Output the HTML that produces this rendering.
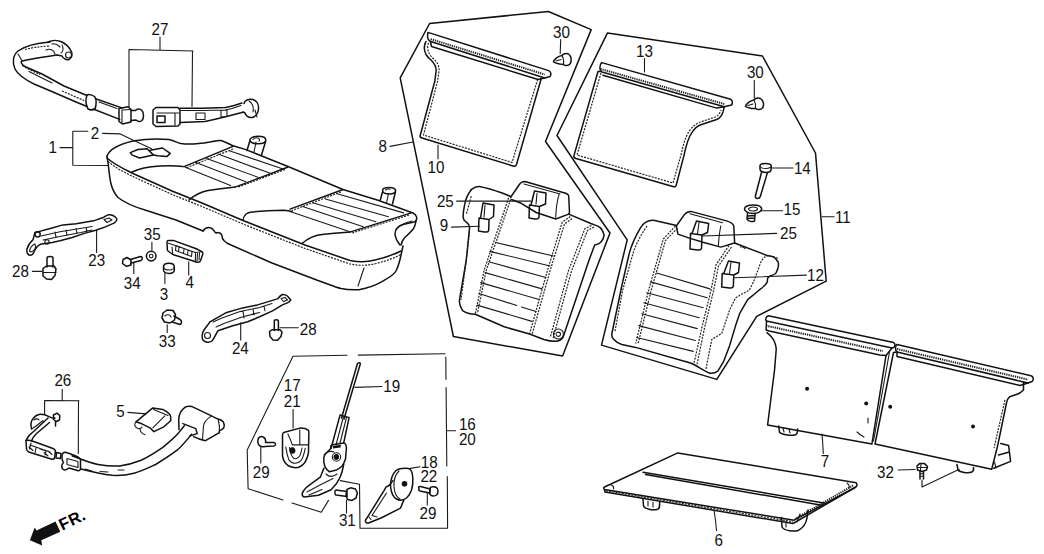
<!DOCTYPE html>
<html><head><meta charset="utf-8">
<style>
html,body{margin:0;padding:0;background:#fff;}
body{width:1044px;height:554px;overflow:hidden;}
svg{display:block;}
svg text{font-family:"Liberation Sans",sans-serif;font-size:16px;fill:#111;}
.l{fill:none;stroke:#111;stroke-width:1.5;stroke-linejoin:round;stroke-linecap:round;}
.t{fill:none;stroke:#1a1a1a;stroke-width:1.1;stroke-linejoin:round;stroke-linecap:round;}
.d{fill:none;stroke:#222;stroke-width:1.2;stroke-dasharray:2 1.2;}
.h{fill:none;stroke:#222;stroke-width:2;stroke-dasharray:1.3 0.9;}
.f{fill:#fff;stroke:#111;stroke-width:1.3;stroke-linejoin:round;}
.k{fill:#111;stroke:none;}
</style></head><body>
<svg width="1044" height="554" viewBox="0 0 1044 554">
<!-- SEAT CUSHION (1) -->
<g id="seat">
<path class="l" d="M107,156 C110,148 120,144 133,141 C145,139 158,138.5 169,139.6 C175,141 178,143 181,143.5 C188,144.5 198,144 210,142 C215,141 219,140 221,140.5 C226,142 230,144.5 233,145.8 L246,149.6 L288,166.5 L343,189.5 L378,200.3 L413,213 C417,215 418,219 415,221.7 L404,224.3 C398,226 395,229 395,234 C395,238 397,241 400,245"/>
<path class="l" d="M107,156 C107,158 108,160 109,171 C110,180 111,190 118,197.5 C125,203 135,207 145,210 L176,220 L203,231"/>
<path class="l" d="M203,231 C205,228 208,227 211,228 C214,229 214,232 216,233 C218,232 222,233 222,236 C222,240 226,243 231,245 L272,263 L318,280.5 C328,284 335,287 341,288.5 C348,290 354,290 359,289.7 C368,288 376,285 382,281.6 C390,277 394,275 396,271 C399,265 400,260 401,255 L403,246"/>
<path class="l" d="M107,158 C115,165 125,169.5 133,173.5 L172,191 L202,203 L243,220.5 L305,245 L350,260.5 C360,262.5 368,262 375,260 C388,257 395,254 401,251"/>
<path class="d" d="M108,161.5 C116,168.5 126,173 134,177 L172,194.5 L202,206.5 L243,224 L305,248.5 L350,264 C360,266 368,265.5 376,263.5 C388,260.5 395,257.5 401,254.5"/>
<path class="l" d="M131,172.5 C140,168 150,166.5 160,166 C170,165.5 176,165.5 183,166.6"/>
<path class="l" d="M189,200 C195,195 200,192 208,190.6 C220,188.5 228,187.8 235,187"/>
<path class="l" d="M243,220 C244,214 247,212.5 252,212 C262,211 275,210.5 284,210.3 C288,210.5 290,211 292,211.5"/>
<path class="l" d="M302,243.5 C308,238 316,235 322,234.4 C335,233 343,232.5 350,232"/>
<path class="l" d="M233,146.4 L184,166.6"/>
<path class="d" d="M233,149 L186,168"/>
<path class="l" d="M287.5,167.3 L235.7,186.9"/>
<path class="d" d="M285,169.5 L237,187.5"/>
<path class="t" d="M229.4,150.8 L283.7,169.2 M218,154 L271,173.6 M206.6,158.4 L258.4,177.4 M195.3,162.2 L245.8,181.8 M185.2,167.3 L230.6,185.6"/>
<path class="l" d="M343.1,189.5 L290,209.1"/>
<path class="d" d="M341,192 L292,210.5"/>
<path class="l" d="M411.3,212.9 L350.6,231.9"/>
<path class="d" d="M409,215 L352,233"/>
<path class="t" d="M338,194 L403.7,212.9 M325.4,199 L388.5,216.7 M312.7,202.8 L375.9,221.7 M302.6,206.6 L363.3,226.8 M290,211.6 L350.6,231.9"/>
<path class="l" d="M249.8,140 C249.8,137.8 253.5,136.3 257.8,136.3 C262.5,136.3 265.8,137.8 265.8,140 C265.8,142.2 262.5,143.8 257.8,143.8 C253.5,143.8 249.8,142.2 249.8,140 Z"/>
<path class="l" d="M249.8,141 L247,150.5 M265.6,141.5 L261.5,155"/>
<path class="t" d="M253,139.5 C254,138 256,137.5 258,138 C259.5,138.5 260,140 259,141 M256,142 L254,152"/>
<path class="l" d="M382.6,190.5 C382.6,188.5 385.5,187.6 389,187.6 C392.8,187.6 395.6,188.8 395.6,190.8 C395.6,192.8 392.8,194 389,194 C385.5,194 382.6,192.6 382.6,190.5 Z"/>
<path class="l" d="M382.6,191.5 L380.2,200.5 M395.4,192 L392.5,204"/>
<path class="t" d="M385.5,190 C386.5,189 388.5,188.8 390,189.3 M388.5,193.5 L386.5,203"/>
<path class="t" d="M396,229 C398,226 404,223 412,221"/>
<path class="l" d="M416.2,220.4 C415.5,224 414.5,227 413.3,229.1 C410,233 407,235.5 404.6,237.7 C402.5,240 401.5,242.5 401,245"/>
<path class="t" d="M358,286 L364,268"/>
<!-- part 2 tabs -->
<path class="l" d="M130.3,152.6 L137.9,149.5 L147.1,148.8 L153.3,154.9 L139.5,158 L131.8,154.9 Z"/>
<path class="l" d="M150.2,150.3 L162.5,148 L170.2,153.4 L167.1,156.4 L157.9,155.7 L153.3,154.9"/>
</g>
<!-- labels 1, 2 and brackets -->
<path class="t" d="M60,147.6 L72.8,147.6 M72.8,131.3 L72.8,165.2 M72.8,131.3 L87.8,131.3 M72.8,165.2 L108,165.5"/>
<path class="t" d="M102.7,133.4 L120.3,133.9 L133.3,140.3 L151.7,148.8"/>
<path class="t" d="M390,146.4 L413,142"/>
<!-- PART 27 -->
<g id="p27">
<path class="t" d="M160,37 L160,49.5 M129,49.5 L193,51 M129,49.5 L129,107 M192.5,51 L192,106.5"/>
<!-- left belt -->
<path class="l" d="M50,42 C38,43 25,46 18,51 C13,55 12,63 15,69 C18,75 26,80 34,84 L53,92 L76,102 L87,106.5"/>
<path class="l" d="M57,55 C45,57 30,59 22,61 C20,62 22,65 26,67 L42,74 L64,86 L87,95.5"/>
<path class="t" d="M18,54 C20,57 21,59 22,61 M29,71.5 L52,83"/>
<path class="d" d="M25,49.5 C32,47.5 40,46.5 50,46 M22,65.5 C28,69 34,72 40,74.5 M62,91 L84,100.5"/>
<path class="l" d="M48,42 C52,40 58,40 62,42 C66,44 69,47 71,51 C73,54 72,58 69,59.5 C66,60.5 63,58 62,56 L57,55"/>
<path class="t" d="M52,44 C55,43 58,45 60,47 M46,50 C50,48 54,50 55,54 M62,45 C64,48 63,52 61,53"/>
<circle class="t" cx="68.5" cy="55" r="3"/>
<!-- sleeve -->
<path class="l" d="M87,95 C89,94 93,95 95,97 C97,101 96,106 95,109 C93,110 90,110 88,109 C86,105 85.5,99 87,95 Z"/>
<path class="l" d="M95.5,98.7 L122,107.9 M93.2,109 L119.7,119.4"/>
<path class="t" d="M99,102 L117,108.5"/>
<path class="l" d="M119,108.5 L128,106.8 L131,109.5 L131,122 L122.5,124 L119,121.5 Z"/>
<path class="t" d="M122,110 L122,122.5 M122,110 L131,109.5"/>
<path class="l" d="M131,110.5 L135.5,110.5 C137,108.5 140,108.5 142,110.5 C144,113 144,118 142,120.5 C140,122 137.5,121.5 136,120 L131,120.5"/>
<!-- right belt -->
<path class="l" d="M156,107.5 L178,107.5 L180,110 L180,124 L178,126 L156,126.5 L153,124 L153,110 Z"/>
<path class="t" d="M157,113 L179,113 M175,113 L175,125.5"/>
<path class="l" d="M157,116 L165,116 L165,122.5 L157,122.5 Z"/>
<path class="l" d="M180,108.2 L202.5,108.2 L225.5,107.6 C232,106.5 237,104.5 242,103 M180,122.5 L204.8,121.4 C213,120 219,118.5 225.5,116.8 L243,112.2"/>
<path class="t" d="M196,113 L205,113 L205,119.5 L196,119.5 Z M221,110.5 L227,110 L227,116.5 L221,117 Z M181,110.5 L203,110.5 L225,110 C232,109 236,107.5 241,105.5"/>
<path class="l" d="M244,103.5 C245,100 249,98.5 253,99.5 C257,101 259,105 258.5,109 C258,113 256,116.5 252.5,117.5 C249,118 246,116 245,113 L243,112"/>
<path class="t" d="M249,101 C252,103 254,107 253,112 M255,110 L257,117"/>
</g>
<!-- PART 23 + 28 -->
<g id="p23">
<path class="l" d="M34.9,232.6 L52.1,228 L62.9,224.9 L76.2,223.7 L94.9,220.4 L103.9,217.2 C106,216 107.5,214.8 108.7,214.7 C111,214.5 113,215 114.4,216.4 C116,217.5 117,218.5 116.9,219.6 C116.5,221 115.5,222 114.4,222.9 L105.5,226.9 L95.7,230.2 L84.4,233.4 L72.2,237.5 L60,240.7 L52.1,242.5 L40.3,244.3 C37,246 35,249 34,252 C33,254.5 31,255.5 29,255 C27,254 26.5,251.5 27,249 C28,245.5 30.5,242 33,239.8 L34.9,232.6"/>
<path class="t" d="M29.5,251 C30,248 32,245.5 34.5,244 C36,245 36,247.5 34.5,249.5 C33,251.5 31,252.5 29.5,251 Z"/>
<path class="t" d="M41,236 L60,231.8 L80,228.5 L92,226.5 M43,240 L60,236.5 L81,232.5 L92,230 M55,232 L56,237 M66,230 L67,235 M76,228.5 L77,233 M86,227.5 L87,231.5"/>
<circle class="l" cx="37.6" cy="234.3" r="2.6"/>
<circle class="t" cx="47" cy="242" r="2.2"/>
<path class="t" d="M104,219.5 L109,218 L112,220 L107,222.5 Z"/>
<path class="t" d="M96.6,230.5 L96.6,252.5"/>
<path class="l" d="M47,267 L47,258 C47,256 53,256 53,258 L53,267"/>
<path class="l" d="M43,268.5 L46.5,266 L54,266 L56,269 L55,275.5 L51.5,279.5 L46.5,279 L43,276 Z"/>
<path class="t" d="M43,272.5 L56,272.5"/>
<path class="t" d="M32.4,271.4 L41.8,271.4"/>
</g>
<!-- 35 34 3 4 -->
<g id="p35">
<path class="t" d="M151.9,242.4 L151.9,250.3"/>
<circle class="l" cx="151.2" cy="256.1" r="4.8"/>
<circle class="t" cx="151.2" cy="256.1" r="1.8"/>
<path class="l" d="M123,259.5 L127,257.5 L131,260 L131,265 L126.5,266.3 L122.5,263.5 Z"/>
<path class="l" d="M130.5,259.5 L140.5,256.5 C142.5,256.5 143,259.5 141,260.5 L131,263"/>
<path class="t" d="M133.8,263.3 L133.8,273.4"/>
<path class="l" d="M163.5,267 C163.5,264.5 166,263.3 169,263.3 C172,263.3 174.3,264.5 174.3,267 L174.3,270 C174.3,272 172,273.4 169,273.4 C166,273.4 163.5,272 163.5,270 Z"/>
<path class="t" d="M163.5,267 C164,269 166,270 169,270 C172,270 174,269 174.3,267"/>
<path class="t" d="M164.9,272 L164.9,283.5"/>
<path class="l" d="M167,242 C167,240.5 168,240.3 170,240.5 L174,240.6 L197.6,249.3 L201.5,251.5 C202.5,252 203,253 202.8,254 L200.5,260.8 C200,262 198.5,262.5 196.5,262 L172.8,254.5 L168,251 C167.2,250 167,249.3 167.3,248 Z"/>
<path class="t" d="M168.5,243.2 L195.5,252.5 L201.5,251.8 M195.5,252.5 L195.3,262 M172,247 L172.8,254.5 M176,245.5 L192,251.5 L191.5,256.5 L175.5,250.5 Z M179,247 L178.5,251.5 M184,249 L183.5,253.5 M188,250.5 L187.5,255 M197.5,253.5 L197,261 M199.5,253 L199,260"/>
<path class="t" d="M188.7,261.9 L188.7,274.9"/>
</g>
<!-- 33 24 28 -->
<g id="p24">
<path class="l" d="M163,313 L167,310 L173,310.5 L175.5,314.5 L174.5,320 L170,323 L164.5,322 L162,318 Z"/>
<path class="l" d="M174,316 L180,319.5 C182,320.5 182,323.5 180,324.5 L172,322"/>
<path class="t" d="M165,316 C167,314 170,314.5 171,317"/>
<path class="t" d="M167.2,324.7 L167.2,332.4"/>
<path class="l" d="M209.9,321.8 L225.8,312.8 L242.7,307.9 L257.6,304.9 L277.4,298.9 C279,297 280.5,295.5 282.4,294.5 C284,294.3 286,295 287.4,296 L290.8,299.9 C290,301.5 289,302.3 287.4,302.9 L282.4,304.9 L272.5,310.9 L259.6,316.8 L247.7,321.8 L232.8,325.7 L217.9,330.7 C216,334 214.5,338 212,341 C209,343 205,342.5 203,340 C201.5,337.5 202,333 204,330 C205.5,327.5 208,325 209.9,321.8"/>
<circle class="t" cx="207.5" cy="335.5" r="3"/>
<path class="t" d="M213,322 L222,318 L240,311.5 L259.6,307.5 L272,303.5 M216,327 L224,323.5 L242,317 L259.6,312.5 M243,311 L244,318 M253,309 L254,315 M264,306 L265,311"/>
<path class="t" d="M281,298.5 L285,297.5 L287.5,300 L283.5,301.5 Z"/>
<path class="t" d="M240.7,322.8 L240.7,340"/>
<path class="l" d="M274.3,330.5 L274.3,321 C274.3,319.3 278.4,319.3 278.4,321 L278.4,330.5"/>
<path class="l" d="M269.5,331.5 L272,329.8 L280,329.8 L282,332 L281,336.5 L277.5,340.2 L273,340 L270,336.5 Z"/>
<path class="t" d="M280,327.8 L298.3,327.8"/>
</g>
<!-- PART 26, 5, FR -->
<g id="p26">
<path class="t" d="M62.2,389.2 L62.2,400.5 M44.6,400.5 L79,400.7 M44.6,400.5 L44.6,414.4 M78.5,401 L78.3,453.5"/>
<path class="l" d="M31.6,428.9 C30.5,425 31,421 33,418.8 C35,416 37,414.6 39,414.4 C43,414 46,415 49,416.6 C52,418 54,418.5 55,418"/>
<path class="l" d="M53.5,415 L57,413.2 L59.8,415.5 L59.5,420 L56.5,421.5 L53.5,419.5 Z M55.5,421.5 L55.5,426"/>
<path class="l" d="M48,418 L33,432 C29,435 27,438 26,440.5 M49.5,422.5 L36,434 C33,437 32,439 31.5,441"/>
<path class="l" d="M26,440.5 L26.5,449.1 C27,451 27.5,451.5 28.7,452 L51.8,459.2 C53.5,459.5 54.5,458.5 54.7,457.5 L55.4,450.6 C55,449.5 54,449 53,448.5 L33,441.2 C30,440 27.5,440 26,440.5 Z"/>
<path class="t" d="M30,445 L50,452 M40,449 L46,451 L45,455 M36,448 L35,453 M29,447 L33,450.5 M44,452.5 L48,456 M48,451 L52,454.5 M31,443 L29.5,449"/>
<path class="t" d="M31.6,428.9 C35,427 39,424 43,420.5 M34,420 C36,418.5 38,418.5 39,420"/>
<path class="l" d="M56.5,452.5 L61,453.5 L60.5,458.5 L56,458 Z"/>
<path class="l" d="M62,456 C62,453 64,452 66,452.5 L69.5,453.5 C73,455 76,456 78,457 L80.5,459 L80.5,468.5 C80.5,470.5 79,471 77.5,470.5 L69,468 C67,470 64,470.5 62.5,469 C61.5,467 62,464 63.5,462.5 C62,461 62,458.5 62,456 Z"/>
<path class="t" d="M67,458.5 L78,461.5 L78,467.5 L67,464.5 Z"/>
<path class="l" d="M72.2,455.9 C80,459 90,463 98.1,464.5 C105,465.7 112,466.3 119.7,466 C127,465 134,463 141.2,460.2 C149,456.5 156,452 162.8,447.3 C168,443 174,438 178.6,432.9 L184.3,425.7 M80.9,468.9 C91,471.5 102,474 112.5,475.3 C120,475.8 127,475 134,473.2 C141,471.5 148,468 155.6,464.5 C163,460 170,455.5 177.1,450.2 C182,446 187,440 191.5,434.4"/>
<path class="t" d="M85,469 L92,471 M100,471.5 L108,472 M118,470 L124,470"/>
<!-- buckle housing -->
<path class="l" d="M179,429.5 L178.7,420 C178.7,415 181,410 185.6,406.9 C187.5,406 189.5,406 191.6,406.4 L209.4,414.9 L217.4,418.8 C220,419.5 222,420.5 223.3,421.8 C224.5,424 224.5,426 223.8,427.8 C222.5,429.5 221,430.3 219.4,430.7 L219.4,432.7 L205.5,440.7 C201,440 197,438.5 193.6,436.7"/>
<path class="t" d="M218.2,419.5 C219.5,424 219.8,428.5 219.4,432.7 M211.4,415.9 C207,419 204,422 203.5,425.8 L202.5,439.7"/>
<path class="l" d="M182.9,423.6 L195.8,428.6 L197.2,433.6 L190.1,435.8"/>
<!-- part 5 -->
<path class="t" d="M127.9,412.4 L145.9,413.9"/>
<path class="l" d="M152.8,407.9 L162.8,409.4 C165,410.5 167,411.5 168.7,413.4 C170,414.5 170.7,415.5 170.7,416.8 L170.7,420.8 L163.8,426.8 L153.8,431.7 C152,430 151,429 149.9,427.8 L141.9,423.8 L136,421.8 Z"/>
<path class="t" d="M152.8,427.8 L164.8,415.9 M153.5,409.5 L168,415.5 M136,421.8 C134,424 134.5,427 137,428 C139,429 141,428.5 142,427 M140,428.5 C140,431 141.5,433.5 145,434.7"/>
<!-- FR arrow -->
<path class="k" d="M29.9,540.3 L34.7,527.5 L36.5,530.5 L55.5,521.6 L60.3,531.7 L41.3,540.2 L42.2,545.5 Z"/>
<text x="0" y="0" transform="translate(62.3,530.8) rotate(-26)" style="font-weight:bold;font-size:16.5px;fill:#000;letter-spacing:0.3px">FR.</text>
</g>
<!-- GROUP 16/20 -->
<g id="g16">
<path class="t" d="M347,355.2 L293,356.3 L247.2,449.9 L248.1,488.7 L283,500 M292,503 L321.3,512.2 L328.5,500.4"/>
<path class="t" d="M358.3,355.1 L445,353.8 M445.8,357 L446,379.3 M446.1,387.6 L446.8,466 M447.3,476.5 L447.6,528.3 L360,528.3 L359.5,484.2 L340.2,480.6"/>
<path class="t" d="M446.5,430.8 L455.5,430.8"/>
<path class="t" d="M293.1,409.5 L293.1,428"/>
<!-- 17/21 cover -->
<path class="l" d="M283.6,432.5 L299.8,428.1 C303,428 306.5,428.8 308.5,430.3 C309,431.5 309,433 308.8,435 L308.5,452.5 C307.5,457.5 306,461 304.2,463.3 C301.5,466.5 298.5,467.8 295.5,467.7 C292,467.5 289.5,466.5 287.9,465.5 C285,463 283,460 282.5,455.8 L282.5,435 C282.5,433.8 283,433 283.6,432.5 Z"/>
<path class="t" d="M287.9,434.1 C289.5,437.5 291,441 292.3,444.9 L308.5,444.9 M299.8,429.8 L299.8,444.9 M285.8,447.1 C286.5,452 287.5,456.5 289,460.1 C291,462.5 293,463.5 295.5,463.3 C298,463 300.5,461.5 302,459 C303.5,456 304.5,452 305.3,448.2 M289.5,447.5 C290,452 291.5,456 293.5,458 C296,459.5 298.5,458 300,455.5 C301,453 301.5,450.5 302,448"/>
<path class="k" d="M289.5,449 C290,447.5 292,447 293.8,447.6 C295.5,448.5 295.8,451 295,452.5 C294,454 291.5,454 290.3,453 C289.5,452 289.3,450.5 289.5,449 Z"/>
<!-- 29 left -->
<path class="l" d="M258,440 C258,437 261,436 263,437 C265,438 266,440 265.5,442.5 L274,442.5 C276,443 276,445.5 274,446 L265,446.5 C263,447 260,446.5 258.5,444.5 C257.5,443 257.5,441.5 258,440 Z"/>
<path class="t" d="M260.8,446.5 L260.8,463"/>
<!-- 19 rod -->
<path class="l" d="M358.5,363 C359.5,362.5 360.5,363 360.3,364 L344,419 M357.5,363.5 L341.5,418"/>
<path class="t" d="M355,387.4 L382,386.5"/>
<!-- recliner -->
<path class="l" d="M340.1,414.9 L349.1,417.6 L343.7,442.9 M340.1,414.9 L331.1,448.3"/>
<path class="t" d="M343.5,416.5 L336,445 M346.5,417.5 L340,443"/>
<path class="l" d="M331.1,448.3 C330,446.5 331,445 332.9,444.7 L343.7,442.9 C345.5,443.5 346.4,446 346.4,448.3 L345.5,459.1 C344.5,462 343.5,464.5 341.9,466.3 C340,468 338.5,469 336.5,469.9 L329.3,471.8 C327,470 325.5,468.5 324.8,466.3 C323.8,463 323.5,460 323.9,457.3 C324.5,455 326,453 327.5,451.9 Z"/>
<path class="l" d="M323.9,468.1 L320.3,477.2 C315,481 310,484.5 305.8,488 C304,490 302.8,491.5 302.2,493.4 C302,495 302.8,496.5 304,497 L318.5,495.2 L331.1,489.8 C335,486 338,482 340.1,477.2 C342,473 343,468.5 343.7,464.5"/>
<path class="t" d="M307,492 L320,485 L333,478.5 M309,495 L322,489.5 M326,474 C329,477 333,477 337,474 M324,455 C326,452 331,450.5 334,452"/>
<circle class="t" cx="336.5" cy="457" r="4.2"/>
<path class="k" d="M333.5,457 C333.5,454.5 336,453.5 338,454.5 C339.5,455.5 339.5,458.5 338,459.5 C336,460.5 333.5,459.5 333.5,457 Z"/>
<path class="k" d="M333,446 L341,444.8 L340.5,447.5 L333,448.5 Z"/>
<!-- 31 bolt -->
<path class="l" d="M336,490 L347,491.5 L347,496.5 L336,495 C334.5,494.5 334.5,490.5 336,490 Z"/>
<path class="l" d="M347,489.5 L350.5,487.8 L355.5,489 L357.4,493 L356,498 L352,500.4 L347.5,499.5 L346,495 Z"/>
<path class="t" d="M346.5,500.4 L346.5,513"/>
<!-- 18/22 bracket -->
<path class="t" d="M410.2,468.4 L420,466.8"/>
<path class="l" d="M396,470.5 C399,468.5 404,468 408.6,468.4 C411,469 412.5,473 412.8,478 C413.2,486 411,494 406.5,498 C403,500.5 399,500.5 396.5,499 M396,470.5 C392.5,474 390.5,480 390.5,486 C391,492 393,497 396.5,499"/>
<path class="t" d="M399,471 C395,475 393.5,481 394,487 C394.5,493 397,497.5 400,499"/>
<circle class="k" cx="404.5" cy="483.8" r="2.8"/>
<path class="l" d="M393,480.6 L389,485.5 L385.9,487.1 L384.2,490.3 L368,516.3 L365.6,520 C365,522 366.5,523.5 368.5,523 L381,518 L400.5,508.2 L403.7,500.1"/>
<path class="t" d="M386.5,493 L372,515.5 L377,517 M369,517 L371,519.5"/>
<!-- 29 right -->
<path class="l" d="M419,488.5 C418,487 419,486.3 420.5,486.5 L430,489 L429.5,493 L420,491 C419,490.5 418.5,489.5 419,488.5 Z"/>
<path class="l" d="M430,488 C431,486.5 434,486.2 436.5,487.5 C438.5,489.5 438.5,493 436.5,495 C434.5,496.5 431.5,496.3 430,494.5 Z"/>
<path class="t" d="M427.3,493 L427.3,505"/>
</g>
<!-- GROUP 8 -->
<g id="g8">
<path class="l" d="M429.6,23.5 L548.4,11.5 L591.2,29.6 L545.5,141.5 L610,233 L562.6,356.1 L453.4,336.5 L400.2,77.8 Z"/>
<!-- part 10 panel -->
<path class="l" d="M428,32.4 L548.7,70.6 C551,71.5 551.5,74.5 550,76.5 L544.7,78 L430.7,41.5 C428,40.5 427,37 428,32.4 Z"/>
<path class="h" d="M430.7,39.1 L544.7,74.5"/>
<path class="l" d="M430.5,42 L431.5,46.5 L538,79.5 L544.7,78"/>
<path class="l" d="M426,41.5 C424,44.5 423.5,50 426,54.5 C427.5,57 429,58.5 431,60 C435,64 436.5,67 436.1,71 L434.8,81.3 L420.5,134.5 C419.5,136 420,137.5 422,138 L513,166 C515,166.5 516,166 516.5,164.5 L540.7,80.5 L541,78.5"/>
<path class="d" d="M428.5,43 C427,46 427.5,51 430,55 C431.5,57 432.5,58 434,59 C438,63 439.5,67 439,71 L437.5,81.5 L423.5,135 L512,162.5 L537.5,80"/>
<path class="t" d="M438,145 L438,158.8"/>
<!-- 30 clip -->
<path class="t" d="M560.7,39.5 L560.2,53.5"/>
<path class="l" d="M554,60.5 C556,58 559,56 562,55.5 C563,54 566,53 568.5,54 C571.5,56 572,61 570,64 C568,66 565,66 563.5,64.5 L560,64 C558,63.5 555,63 553.5,62 Z"/>
<path class="t" d="M562,55.5 C563.5,58 564,61 563.5,64.5 M556,61 L561,59.5"/>
<!-- seatback 8 -->
<path class="l" d="M471.2,189.7 C474,187.5 477,186.3 479.4,186.5 C487,188 495,190.5 502.1,193 L510.2,196.2"/>
<path class="l" d="M471.2,189.7 C468,194 465.5,199 464.7,204.4 C463.5,210 463,214 463.1,217.3 C463.5,220 465,221.5 466.4,222.2 C468,223.5 469.5,225 469.6,227.1 L466.3,260 L459.5,300 C459,303 460,306 462.6,310.6 C466,313 470,314 475.3,314.2"/>
<path class="l" d="M475.3,314.2 L504.2,326.8 L529.5,334 L543.9,339.5 C548,340.8 552,341.5 556.5,341.3 C559.5,341 561.8,339.5 562.9,337.7 L589.1,260 L594.7,244.9 C597.5,244.5 600,243.5 601.2,241.7 C603.5,239 604.5,236 603.6,233.6 C602.5,230 601,228 599.5,227.1 C597,225.5 594,224.8 591.4,223.8 L568.7,214.1"/>
<path class="l" d="M510.5,197.5 L519,185 C520.5,182.5 522.5,181.5 525,181.5 L562.2,192.2 C566,193 568.5,194 568.7,196 L569.5,212.5 L568.7,214.1"/>
<path class="l" d="M511.5,199.5 L520,202.7 L536.2,212.5 L555.7,219 L568.7,214.1"/>
<path class="t" d="M559,194.6 C557,201 556,210 555.7,217.3 M524,184 L560,194"/>
<path class="d" d="M471.2,196.2 L466.4,214.1 M469.5,232 L466,262 L461,300"/>
<path class="d" d="M508.6,197.9 L484.2,270 L475.3,314.2"/>
<path class="d" d="M510.6,199.5 L486.2,270.5 L477.5,313"/>
<path class="d" d="M570.3,216.5 L562.2,222.2 L547.6,270 L529.5,334"/>
<path class="d" d="M572,218.5 L564.5,224 L550,271 L532,334.5"/>
<path class="d" d="M591.4,225.5 L584.9,228.7 L568.7,270 L550.2,337.7"/>
<path class="d" d="M594,227 L587.5,230.5 L571.5,271 L553,338.5"/>
<path class="t" d="M495.6,242.5 L553.5,256 M489.9,251.4 L550,266 M488.8,261.8 L546,277.5 M485.2,272.6 L542,288.9 M480.7,282.6 L539,299.5 M478.9,293.4 L516.8,305.5 M521.5,307 L536,311.5 M477.1,305.1 L532,321.4"/>
<circle class="t" cx="558.4" cy="334" r="5"/>
<path class="t" d="M556,334 C556,331.5 560.5,331.5 560.5,334.3 C560.5,337 556.5,337 556.5,335"/>
<!-- 25 tab, 9 tab -->
<path class="l" d="M529.5,205 L539.4,206.5 L539,217.5 C538.5,219 537,219.3 535,219 L529,218 Z M531,205 L534.5,191 L546,193 L545.5,204 L539.4,206.5"/>
<path class="t" d="M537,193.5 L536,204"/>
<path class="l" d="M479,218 L489,219.5 L488.7,230.5 C488.3,232 486.5,232.3 484.5,232 L478.5,231 Z M480.5,218 L483,203 L494,205 L493.5,216.5 L489,219.5"/>
<path class="t" d="M485,205 L484,217"/>
<path class="t" d="M456.6,201.1 L531,201.1"/>
<path class="t" d="M451.5,227.1 L479.4,226.3"/>
</g>
<!-- GROUP 11 -->
<g id="g11">
<path class="l" d="M607.5,32.9 L762.5,56 L815.5,153 L826.2,281.2 L756.7,316.4 L716.8,379.4 L601.5,345.1 L627.2,239.9 L557,135.5 Z"/>
<path class="t" d="M822.2,216.7 L834.1,216.7"/>
<!-- part 13 panel -->
<path class="l" d="M601.7,62.6 L730.6,99.2 C732.5,100 733,103 731.5,105 L724.3,106.8 L602,72 C599.5,71 599,65 601.7,62.6 Z"/>
<path class="h" d="M600.4,68.9 L724.3,104"/>
<path class="l" d="M602.9,75.2 L716.7,108.1 L724.3,106.8"/>
<path class="l" d="M600.5,71.5 L598,71.5 L573.8,156.1 C573.5,157.5 574.5,158 576,158.5 L673.7,186.8 C675,187 676,186.5 676.2,185.2 L683.8,156.1 C686,146 688,138 691.4,133.4 C694,129 697,126 701.5,124.5 L716.7,119.5 C720,118 722,115 723,111.9 L724.3,106.8"/>
<path class="d" d="M601,73 L577,155 L673,183 L681,155 C683,145 685.5,137 689,131.5 C692,127 695.5,124 700.5,122 L715.5,117 C718.5,115.5 720,113 721,110"/>
<path class="t" d="M644.5,58.5 L644.5,72"/>
<!-- 30 clip -->
<path class="t" d="M754.3,80.5 L754.3,98"/>
<path class="l" d="M746,105 C748,102.5 751,100.5 754,100 C755,98.5 758,97.8 760.5,98.5 C763.5,100.5 764.5,105 762.5,108 C760.5,110 757.5,110 756,108.5 L752,108.5 C750,108 747,107.5 745.5,106.5 Z"/>
<path class="t" d="M754,100 C755.5,102.5 756,105.5 755.5,108.5 M748,105.5 L753,104"/>
<!-- 14 pin -->
<path class="l" d="M760,166 C760,164 763,163.5 765.5,163.5 C769,163.5 771.3,164.5 771.3,166.5 L771,170 C770.5,172 768,172.6 765.5,172.4 C762.5,172.2 760,171 760,169 Z"/>
<path class="t" d="M760,166.5 C761,168 763.5,168.6 766,168.5 C769,168.3 771,167.5 771.3,166.5"/>
<path class="l" d="M761.7,171.7 L755.5,195.5 C755,197.5 756,198.5 757.5,198.5 C759,198.5 760,197.5 760.3,196.5 L767.5,172.4"/>
<path class="t" d="M771.5,168 L793,168"/>
<!-- 15 clip -->
<path class="l" d="M744.5,209 C744.5,206.5 748.5,204.9 753,204.9 C758,204.9 761.7,206.5 761.7,209 C761.7,211.5 758,213.5 753,213.5 C748.5,213.5 744.5,211.5 744.5,209 Z"/>
<path class="t" d="M748.5,208.8 C749.5,207.5 751,207 753,207 C755.5,207 757.5,208 757.5,209.2 C757,210.5 755,211 753,211 C750.5,211 748.5,210 748.5,208.8 Z"/>
<path class="l" d="M747.5,213.5 L747,219 C748,221.5 752,222.2 754.5,221 L755.2,213.5 M747.5,216 L754.8,215.5 M747.3,218.5 L754.6,218"/>
<path class="t" d="M760.7,210.7 L782.5,210.7"/>
<!-- seatback 11 -->
<path class="l" d="M675.5,225.2 L653.6,220.3 C648,220 643.5,223 640.6,227.6 C635,237 631.5,245 629.2,253.6 L622,285 L611.9,333.5 C611.5,336 612,338 613.9,339.5 C616,342 618.5,343.5 621.8,344.5 L635.7,347.4 L691.3,363.3 C697,366 703,370 709.8,373.2 C713,373.5 716,372.5 717.8,371.2 L723.7,361.3 L729.7,345.4 L735.6,325.6 L739.6,313.7 L747.5,299.8 C752,296 756,293 759.4,289.8 C762,288 766,285 767.4,281.9 C767.5,279.5 766.5,278 769.5,276.3 C773,275 775.5,274 776,273 C777.5,270 778.5,267.5 778.5,264.9 C778.5,262 777.5,260.5 777.7,261.7 C776,258.5 774.5,257 772,256.5 L766.3,255.2 L734.6,243"/>
<path class="l" d="M676.3,226 L684.4,214.6 C686,212.5 688,211.4 690.9,211.4 L727.3,221.1 C730.5,222 732.5,223 733.8,226 L734.6,242.2"/>
<path class="l" d="M676.3,226 L677.9,234.1 L689.3,238.1 L703,242.2 L720.8,247.1 L734.6,243"/>
<path class="t" d="M690,213.8 L722.5,222.7 M720.8,226 C719.5,232 718.8,239 718.4,245.5"/>
<path class="d" d="M647.1,226 C640,236 635,246 632.5,255.2 L622.7,290 L614.9,331.6"/>
<path class="d" d="M675.5,226 L663.3,239 L648.7,290 L635.7,343.5"/>
<path class="d" d="M677.5,228 L665.5,240.5 L651,291 L638,344"/>
<path class="d" d="M729,245.5 L716,264.9 L711.1,290 L701.9,327.5 L694,363.3"/>
<path class="d" d="M731.5,247 L718.5,266 L713.5,291 L704.5,328 L697,364.5"/>
<path class="d" d="M777.7,258.4 C774,256.5 770,255.5 766.3,256 C763,258 761,261 759.8,264.9 L753.5,281.9 L749.5,289.8 L735.6,297.8 L729.7,309.7 L721.7,333.5 L711.8,339.4 L705.9,369.2"/>
<path class="t" d="M656.6,273 L710,288.9 M650.6,281.9 L707.2,297.8 M646.7,292.8 L703.3,307.7 M643.7,302.8 L699.3,317.7 M641.7,313.7 L697.3,328.6 M638.7,325.6 L695.3,340.5 M636.7,337.5 L693.3,351.4"/>
<path class="t" d="M740.5,247 C742,246.5 744,247.5 745,248.7"/>
<!-- tabs -->
<path class="l" d="M690.5,233.5 L702,235 L701.5,248.5 C701,250 699.5,250.3 697.5,250 L690,249 Z M692,233.5 L696.5,221.1 L708.7,223.5 L707.5,232.5 L702,235"/>
<path class="t" d="M699,222.5 L697.5,233.5"/>
<path class="l" d="M722.2,273.5 L733.8,275 L733.3,286.5 C733,288 731.5,288.2 729.5,288 L721.7,287 Z M723.7,273.5 L728.5,261 L739.5,263 L738.5,272.5 L733.8,275"/>
<path class="t" d="M731,262 L729.5,273.5"/>
<path class="t" d="M702,236 L776.6,233.4"/>
<path class="t" d="M734.5,277.8 L806.4,275.1"/>
</g>
<!-- PART 7 -->
<g id="p7">
<!-- left panel -->
<path class="l" d="M768.4,315.7 L893.6,342.6 C895.5,343.5 895.5,346.5 893.5,347.5 L892,348 L766.5,321 C765,319.5 766,316.5 768.4,315.7 Z"/>
<path class="h" d="M766.1,325.7 L882.8,351"/>
<path class="l" d="M766.5,321 L766.1,330 L769.2,331 L879.7,355 L886,355.5 L892,348"/>
<path class="l" d="M767,332.6 C770,335 772.5,337.5 773.8,340.3 C775.5,344 776.5,348 776.1,351 L774.6,369.5 L767.6,425 L871.9,444 L886,355.5"/>
<path class="t" d="M889.5,352 L873.5,441"/>
<path class="l" d="M778.7,426 L779.5,432 C781,434.5 790,436 795,435 C797.5,434.5 797.6,432 797.6,429"/>
<path class="t" d="M783,428 L784,432 M789,429 L790,433"/>
<circle class="k" cx="807.1" cy="388.7" r="2"/>
<circle class="k" cx="866.2" cy="403.5" r="2"/>
<path class="t" d="M857,432 C859,434 862,436 864,437 M868,418 L868,423"/>
<!-- right panel -->
<path class="l" d="M897,344.5 L1031,375.8 C1033.5,376.5 1034,380 1032,381.5 L1028,383 L897,352 C895,351 895,345.5 897,344.5 Z"/>
<path class="h" d="M897,349 L1028,379.5"/>
<path class="l" d="M897,352 L897,356.5 L1020,385.5 L1028,383"/>
<path class="l" d="M1023.5,382 L1023.5,389.9 C1021,392.5 1018.5,394 1015.6,394.8 L1009.6,396.8 C1008,398 1007,400 1006.5,403 L997.7,445.5 L991.7,469.3 L875,444 L893.5,352.5 L897,352"/>
<path class="d" d="M1005,400 L994,448"/>
<path class="l" d="M1000.7,443.5 L1008.6,445.5 L1010.6,461.4 L993.7,468.3 M998.5,455 L1009.5,452"/>
<path class="t" d="M994.5,462 L996,468"/>
<path class="l" d="M957,464.5 L958,470 C960,472.5 968,473.5 972,472 C973.5,471 973.7,469 973.5,467.5"/>
<circle class="k" cx="890.2" cy="406.7" r="2"/>
<circle class="k" cx="973" cy="426.6" r="2"/>
<path class="t" d="M822,434 C822.5,440 823,447 823.3,453.5"/>
<!-- 32 -->
<path class="t" d="M898.3,470 L915,469.5"/>
<path class="l" d="M917,466 L919.5,463.6 L924.5,463.6 L927.5,466.5 L926.5,470 L922,471.5 L917.5,470 Z"/>
<path class="t" d="M918,467.5 L927,467.5 M921,463.8 L920.5,470.5"/>
<path class="l" d="M920,471.5 L920,479 M923.5,471.5 L923.5,479"/>
<path class="t" d="M920,474 L923.5,473.5 M920,476.5 L923.5,476"/>
<path class="t" d="M922,480 L922,487 L959.2,469.3"/>
</g>
<!-- PART 6 -->
<g id="p6">
<path class="l" d="M677.8,452.9 L856.2,482.7 C857.5,484 857,486.5 855,487.5 L794.1,520.2 L604.5,489.5 C603.5,488.5 603.5,487.5 604.5,487 Z"/>
<path class="l" d="M604.5,489.5 L605,492 L793,523.5 L855,487.5"/>
<path class="d" d="M606,490.8 L793,521.8"/>
<path class="h" d="M853,485.5 L795,519"/>
<path class="l" d="M643,472.2 L825.2,503.2 M645.5,474.5 L823,505.5"/>
<path class="t" d="M611,485 C613,485.5 614,487 613.5,489 M847,483 C849,484.5 849.5,486.5 849,488"/>
<path class="l" d="M643,499.5 L643.5,506 C645,509 652,510.5 657,509.5 C659.5,509 659.8,507 659.6,502"/>
<path class="t" d="M648,501 L648,506 M653,502 L653,507"/>
<path class="l" d="M781.5,517.5 L782,527 C784,530.5 793,532 798,530.5 C803,528 806,524 807,518 L808,510"/>
<path class="t" d="M786,521 L786,527 M797,522 L800,514"/>
<path class="t" d="M714,510 C715,516 716,523 716.5,530.5"/>
</g>
<g id="labels">
<text transform="matrix(0.95 0 0 1 151.6 35.2)">27</text>
<text transform="matrix(0.95 0 0 1 90.7 139.2)">2</text>
<text transform="matrix(0.95 0 0 1 48.5 152.5)">1</text>
<text transform="matrix(0.95 0 0 1 378.6 152.4)">8</text>
<text transform="matrix(0.95 0 0 1 88.2 265.8)">23</text>
<text transform="matrix(0.95 0 0 1 12.1 276.8)">28</text>
<text transform="matrix(0.95 0 0 1 143.8 240.0)">35</text>
<text transform="matrix(0.95 0 0 1 123.8 288.6)">34</text>
<text transform="matrix(0.95 0 0 1 159.8 300.1)">3</text>
<text transform="matrix(0.95 0 0 1 185.4 288.1)">4</text>
<text transform="matrix(0.95 0 0 1 158.8 346.6)">33</text>
<text transform="matrix(0.95 0 0 1 231.9 354.0)">24</text>
<text transform="matrix(0.95 0 0 1 299.7 335.4)">28</text>
<text transform="matrix(0.95 0 0 1 54.4 385.9)">26</text>
<text transform="matrix(0.95 0 0 1 116.2 417.3)">5</text>
<text transform="matrix(0.95 0 0 1 283.8 391.4)">17</text>
<text transform="matrix(0.95 0 0 1 283.8 406.8)">21</text>
<text transform="matrix(0.95 0 0 1 252.7 477.6)">29</text>
<text transform="matrix(0.95 0 0 1 383.2 392.0)">19</text>
<text transform="matrix(0.95 0 0 1 338.9 526.3)">31</text>
<text transform="matrix(0.95 0 0 1 420.8 467.9)">18</text>
<text transform="matrix(0.95 0 0 1 420.4 481.8)">22</text>
<text transform="matrix(0.95 0 0 1 419.6 518.7)">29</text>
<text transform="matrix(0.95 0 0 1 458.9 429.6)">16</text>
<text transform="matrix(0.95 0 0 1 458.9 445.1)">20</text>
<text transform="matrix(0.95 0 0 1 427.5 173.3)">10</text>
<text transform="matrix(0.95 0 0 1 553.1 37.5)">30</text>
<text transform="matrix(0.95 0 0 1 436.9 207.2)">25</text>
<text transform="matrix(0.95 0 0 1 439.8 231.2)">9</text>
<text transform="matrix(0.95 0 0 1 636.0 57.0)">13</text>
<text transform="matrix(0.95 0 0 1 746.9 78.0)">30</text>
<text transform="matrix(0.95 0 0 1 793.9 173.7)">14</text>
<text transform="matrix(0.95 0 0 1 783.5 215.2)">15</text>
<text transform="matrix(0.95 0 0 1 835.0 222.5)">11</text>
<text transform="matrix(0.95 0 0 1 780.0 238.6)">25</text>
<text transform="matrix(0.95 0 0 1 807.0 281.1)">12</text>
<text transform="matrix(0.95 0 0 1 820.8 466.8)">7</text>
<text transform="matrix(0.95 0 0 1 877.0 478.0)">32</text>
<text transform="matrix(0.95 0 0 1 714.6 546.2)">6</text>
</g>
</svg></body></html>
